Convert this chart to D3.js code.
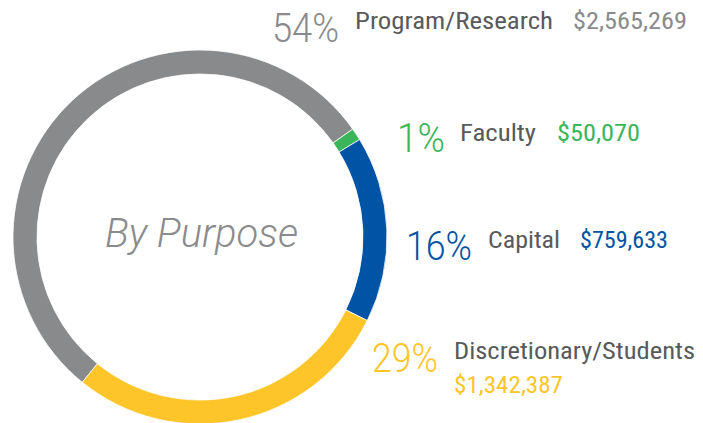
<!DOCTYPE html>
<html>
<head>
<meta charset="utf-8">
<script src="https://cdn.jsdelivr.net/npm/d3@7"></script>
<style>
  body { margin: 0; background: #fff; }
  svg { display: block; }
  .pct { font-family: Roboto, "Open Sans", sans-serif; font-weight: 300; font-size: 40px; }
  .name, .amt { font-family: "Roboto Condensed", Roboto, sans-serif; font-size: 23px; }
  .name { fill: #58595b; }
  .center { font-family: Roboto, sans-serif; font-weight: 300; font-style: italic; font-size: 40px; fill: #8a8b8d; }
</style>
</head>
<body>
<svg width="703" height="423"></svg>
<script>
// data
var categories = ["Program/Research", "Faculty", "Capital", "Discretionary/Students"];
var amounts = [2565269, 50070, 759633, 1342387];
var percentLabels = ["54%", "1%", "16%", "29%"];
var colors = ["#898a8c", "#3bb55a", "#0053a5", "#fdc52a"];

// label placement (pct x/baseline, name x/baseline/width, amount x/baseline/width)
var layout = [
  { px: 272, py: 42, pw: 67, nx: 355, ny: 29, nw: 198, ax: 573, ay: 29, aw: 114 },
  { px: 397, py: 152, pw: 48, nx: 460, ny: 141, nw: 76, ax: 557, ay: 141, aw: 83 },
  { px: 406, py: 260, pw: 66, nx: 488, ny: 248, nw: 72, ax: 580, ay: 248, aw: 88 },
  { px: 372, py: 372, pw: 66, nx: 454, ny: 359, nw: 241, ax: 454, ay: 393, aw: 109 }
];

var svg = d3.select("svg"),
    cx = 200, cy = 237,
    outer = 187, inner = 163;

var start = 219 * Math.PI / 180;

var pie = d3.pie()
    .sort(null)
    .startAngle(start)
    .endAngle(start + 2 * Math.PI);

var arc = d3.arc()
    .innerRadius(inner)
    .outerRadius(outer);

var g = svg.append("g").attr("transform", "translate(" + cx + "," + cy + ")");

g.selectAll("path")
  .data(pie(amounts))
  .enter().append("path")
  .attr("d", arc)
  .attr("fill", function(d, i) { return colors[i]; })
  .attr("stroke", "#fff")
  .attr("stroke-width", 0.8);

svg.append("text")
  .attr("class", "center")
  .attr("x", 105)
  .attr("y", 247)
  .attr("textLength", 193)
  .attr("lengthAdjust", "spacingAndGlyphs")
  .text("By Purpose");

var fmt = d3.format("$,");

var labels = svg.selectAll("g.label")
  .data(categories)
  .enter().append("g")
  .attr("class", "label");

labels.append("text")
  .attr("class", "pct")
  .attr("x", function(d, i) { return layout[i].px; })
  .attr("y", function(d, i) { return layout[i].py; })
  .attr("textLength", function(d, i) { return layout[i].pw; })
  .attr("lengthAdjust", "spacingAndGlyphs")
  .attr("fill", function(d, i) { return colors[i]; })
  .text(function(d, i) { return percentLabels[i]; });

labels.append("text")
  .attr("class", "name")
  .attr("x", function(d, i) { return layout[i].nx; })
  .attr("y", function(d, i) { return layout[i].ny; })
  .attr("textLength", function(d, i) { return layout[i].nw; })
  .attr("lengthAdjust", "spacingAndGlyphs")
  .text(function(d) { return d; });

labels.append("text")
  .attr("class", "amt")
  .attr("x", function(d, i) { return layout[i].ax; })
  .attr("y", function(d, i) { return layout[i].ay; })
  .attr("textLength", function(d, i) { return layout[i].aw; })
  .attr("lengthAdjust", "spacingAndGlyphs")
  .attr("fill", function(d, i) { return colors[i]; })
  .text(function(d, i) { return fmt(amounts[i]); });
</script>
</body>
</html>
